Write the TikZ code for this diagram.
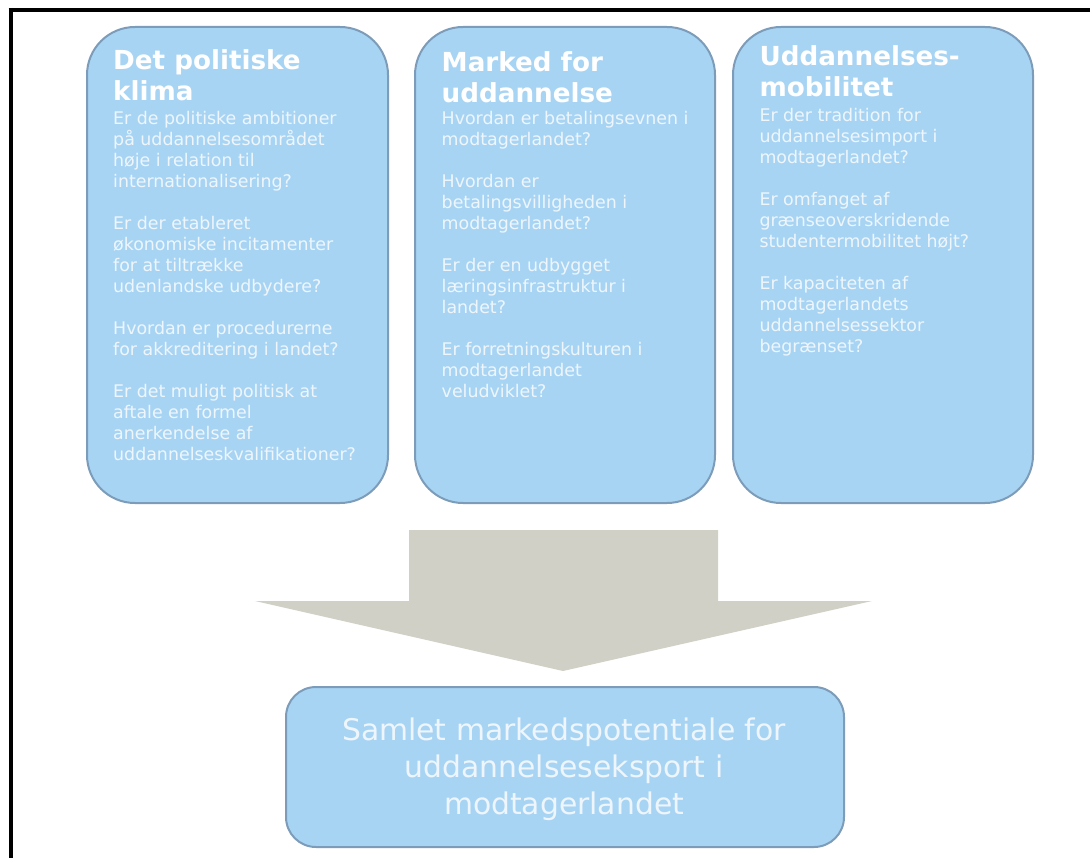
\documentclass[tikz,border=0pt]{standalone}
\usepackage{fontspec}
\setmainfont{DejaVu Sans}
\definecolor{boxfill}{HTML}{A8D4F4}
\definecolor{boxline}{HTML}{7C9CB9}
\definecolor{bodytxt}{HTML}{EEF6FC}
\definecolor{arrowfill}{HTML}{D0D0C6}
\tikzset{
  panel/.style={draw=boxline, line width=2pt, fill=boxfill, rounded corners=48pt},
  resultbox/.style={draw=boxline, line width=2pt, fill=boxfill, rounded corners=30pt},
  titletxt/.style={anchor=base west, inner sep=0pt, text=white,
    font=\fontsize{26.2}{31.5}\selectfont\bfseries},
  bodytext/.style={anchor=base west, inner sep=0pt, text=bodytxt,
    font=\fontsize{17.4}{21}\selectfont},
  resulttxt/.style={inner sep=0pt, text=bodytxt, align=center,
    font=\fontsize{29.8}{37}\selectfont},
}
\newcommand{\tbody}[1]{\parbox[t]{300pt}{\raggedright #1}}
\begin{document}
\begin{tikzpicture}[x=1pt,y=-1pt]
\useasboundingbox (0,0) rectangle (1090,858);
\fill[white] (0,0) rectangle (1090,858);
% frame
\draw[black, line width=4.5pt] (8.5,10) -- (1090,10);
\draw[black, line width=4.5pt] (10.8,7.8) -- (10.8,858);

% panels
\node[panel, minimum width=301pt, minimum height=476pt, anchor=north west] (p1) at (86,26) {};
\node[panel, minimum width=300pt, minimum height=476pt, anchor=north west] (p2) at (414,26) {};
\node[panel, minimum width=300pt, minimum height=476pt, anchor=north west] (p3) at (732,26) {};

% panel 1
\node[titletxt] (t1) at (113,69.5) {\tbody{Det politiske\\klima}};
\node[bodytext] (b1) at (113,125) {\tbody{Er de politiske ambitioner\\på uddannelsesområdet\\høje i relation til\\internationalisering?\\[21pt]Er der etableret\\økonomiske incitamenter\\for at tiltrække\\udenlandske udbydere?\\[21pt]Hvordan er procedurerne\\for akkreditering i landet?\\[21pt]Er det muligt politisk at\\aftale en formel\\anerkendelse af\\uddannelseskvalifikationer?}};

% panel 2
\node[titletxt] (t2) at (441.5,71.5) {\tbody{Marked for\\uddannelse}};
\node[bodytext] (b2) at (441.5,125) {\tbody{Hvordan er betalingsevnen i\\modtagerlandet?\\[21pt]Hvordan er\\betalingsvilligheden i\\modtagerlandet?\\[21pt]Er der en udbygget\\læringsinfrastruktur i\\landet?\\[21pt]Er forretningskulturen i\\modtagerlandet\\veludviklet?}};

% panel 3
\node[titletxt] (t3) at (759.3,65.5) {\tbody{Uddannelses-\\mobilitet}};
\node[bodytext] (b3) at (759.3,121.5) {\tbody{Er der tradition for\\uddannelsesimport i\\modtagerlandet?\\[21pt]Er omfanget af\\grænseoverskridende\\studentermobilitet højt?\\[21pt]Er kapaciteten af\\modtagerlandets\\uddannelsessektor\\begrænset?}};

% arrow
\coordinate (a1) at (409,530);
\coordinate (a2) at (718,530);
\coordinate (a3) at (718,601);
\coordinate (a4) at (872,601);
\coordinate (a5) at (563,671);
\coordinate (a6) at (255,601);
\coordinate (a7) at (409,601);
\fill[arrowfill] (a1) -- (a2) -- (a3) -- (a4) -- (a5) -- (a6) -- (a7) -- cycle;

% result box
\node[resultbox, minimum width=558pt, minimum height=160pt, anchor=north west] (r) at (285,686) {};
\node[resulttxt] (rt) at (564,769) {Samlet markedspotentiale for\\uddannelseseksport i\\modtagerlandet};
\end{tikzpicture}
\end{document}
